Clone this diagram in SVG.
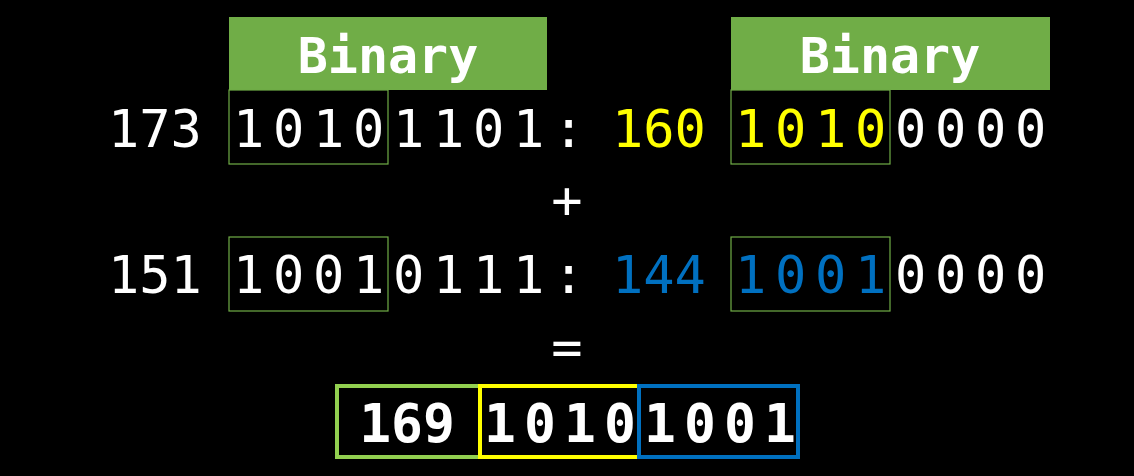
<svg xmlns="http://www.w3.org/2000/svg" width="1134" height="476" viewBox="0 0 1134 476">
<style>
.t{font-family:"DejaVu Sans Mono",monospace;font-size:52px;fill:#fff}
.b{letter-spacing:8.7px}
.h{font-family:"DejaVu Sans Mono",monospace;font-size:50px;font-weight:bold;fill:#fff;text-anchor:middle}
.hb{fill:#70AD47}
.ob{fill:none;stroke:#70AD47;stroke-width:1.2}
.y{fill:#FFFF00}
.bl{fill:#0070C0}
.r{font-family:"DejaVu Sans Mono",monospace;font-size:53px;font-weight:bold;fill:#fff}
</style>
<rect width="1134" height="476" fill="#000"/>
<g id="header-left"><rect class="hb" x="229" y="17" width="318" height="73"/><text class="h" x="388" y="73">Binary</text></g>
<g id="header-right"><rect class="hb" x="731" y="17" width="319" height="73"/><text class="h" x="890" y="73">Binary</text></g>
<g id="row1">
<text class="t" x="108" y="147">173</text>
<rect class="ob" x="229" y="90" width="159" height="74"/>
<text class="t b" x="233" y="147">10101101:</text>
<text class="t y" x="612" y="147">160</text>
<rect class="ob" x="731" y="90" width="159" height="74"/>
<text class="t b" x="735" y="147"><tspan class="y">1010</tspan>0000</text>
</g>
<g id="plus"><text class="t" x="567" y="218" text-anchor="middle">+</text></g>
<g id="row2">
<text class="t" x="108" y="293">151</text>
<rect class="ob" x="229" y="237" width="159" height="74"/>
<text class="t b" x="233" y="293">10010111:</text>
<text class="t bl" x="612" y="293">144</text>
<rect class="ob" x="731" y="237" width="159" height="74"/>
<text class="t b" x="735" y="293"><tspan class="bl">1001</tspan>0000</text>
</g>
<g id="equals"><text class="t" x="567" y="365" text-anchor="middle">=</text></g>
<g id="result">
<rect x="337" y="386" width="143" height="71" fill="none" stroke="#92D050" stroke-width="4"/>
<rect x="480" y="386" width="159" height="71" fill="none" stroke="#FFFF00" stroke-width="4"/>
<rect x="639" y="386" width="159" height="71" fill="none" stroke="#0070C0" stroke-width="4"/>
<text class="r" x="407" y="442" text-anchor="middle">169</text>
<text class="r" x="484" y="442" letter-spacing="8.1">10101001</text>
</g>
</svg>
